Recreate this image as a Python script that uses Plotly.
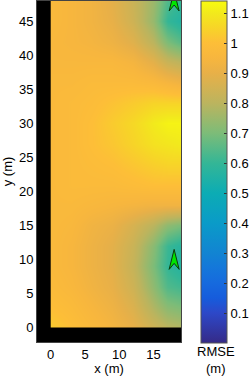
import plotly.graph_objects as go

# grid nodes (m)
x_nodes = [0, 3, 6, 9, 12, 15, 17, 19]
y_nodes = [0, 3, 6, 9, 12, 15, 18, 21, 24, 27, 30, 33, 36, 39, 42, 45, 48]

# RMSE (m), one row per y node
rmse = [
    [1.03, 1.00, 0.97, 0.94, 0.90, 0.84, 0.80, 0.78],
    [1.00, 0.98, 0.95, 0.92, 0.87, 0.78, 0.72, 0.70],
    [0.98, 0.96, 0.93, 0.90, 0.84, 0.73, 0.64, 0.62],
    [0.97, 0.95, 0.92, 0.89, 0.82, 0.70, 0.60, 0.56],
    [0.97, 0.95, 0.92, 0.89, 0.83, 0.72, 0.61, 0.57],
    [0.97, 0.96, 0.93, 0.91, 0.86, 0.80, 0.73, 0.70],
    [0.97, 0.97, 0.96, 0.95, 0.94, 0.93, 0.93, 0.93],
    [0.97, 0.98, 0.98, 0.98, 0.99, 1.00, 1.00, 1.00],
    [0.97, 0.98, 0.99, 1.00, 1.02, 1.04, 1.05, 1.05],
    [0.97, 0.98, 1.00, 1.02, 1.05, 1.08, 1.09, 1.10],
    [0.97, 0.98, 1.00, 1.03, 1.06, 1.10, 1.12, 1.12],
    [0.97, 0.98, 0.99, 1.01, 1.03, 1.05, 1.05, 1.05],
    [0.97, 0.97, 0.98, 0.98, 0.98, 0.97, 0.95, 0.93],
    [0.96, 0.96, 0.96, 0.96, 0.94, 0.89, 0.83, 0.80],
    [0.96, 0.95, 0.94, 0.92, 0.88, 0.80, 0.70, 0.65],
    [0.97, 0.95, 0.93, 0.90, 0.84, 0.74, 0.60, 0.56],
    [0.97, 0.95, 0.93, 0.89, 0.83, 0.75, 0.64, 0.60],
]

anchor_x = [18, 18]
anchor_y = [10, 48]

cb_ticks = [0.1, 0.2, 0.3, 0.4, 0.5, 0.6, 0.7, 0.8, 0.9, 1, 1.1]
x_ticks = [0, 5, 10, 15]
y_ticks = [0, 5, 10, 15, 20, 25, 30, 35, 40, 45]

CMIN, CMAX = 0.0, 1.14
cmap_vals = [0.0, 0.1, 0.15, 0.2, 0.25, 0.3, 0.4, 0.5, 0.6, 0.7, 0.8, 0.9, 0.95, 1.0, 1.05, 1.1, 1.14]
cmap_cols = ["rgb(53,42,135)", "rgb(45,72,200)", "rgb(22,92,220)", "rgb(22,106,222)",
             "rgb(20,119,218)", "rgb(18,132,210)", "rgb(10,155,200)", "rgb(12,172,180)",
             "rgb(52,182,150)", "rgb(125,188,120)", "rgb(188,180,94)", "rgb(232,176,72)",
             "rgb(247,182,62)", "rgb(253,190,56)", "rgb(247,212,40)", "rgb(242,234,28)",
             "rgb(249,251,14)"]
colorscale = [[(v - CMIN) / (CMAX - CMIN), c] for v, c in zip(cmap_vals, cmap_cols)]

W, H = 249, 376
L, R, T, B = 37, 68, 1, 34
PW, PH = W - L - R, H - T - B
FONT = "Liberation Sans, Arial, sans-serif"
XR = [-2, 19]
YR = [-2.15, 48]
CB_LEFT, CB_THICK, CB_LEN = 201, 26, 342

# arrow glyph for the anchors, in pixels relative to the anchor (tip up, notched base)
glyph_px = [(0, 10), (5, -10), (0, -4), (-5, -10), (0, 10)]
pxm_x = PW / (XR[1] - XR[0])
pxm_y = PH / (YR[1] - YR[0])

fig = go.Figure()
fig.add_trace(go.Heatmap(
    x=x_nodes, y=y_nodes, z=rmse, zsmooth="best",
    colorscale=colorscale, zmin=CMIN, zmax=CMAX,
    colorbar=dict(
        xref="paper", yref="paper",
        x=(CB_LEFT - L) / PW, xanchor="left", y=1.0, yanchor="top",
        thickness=CB_THICK, thicknessmode="pixels",
        len=CB_LEN / PH, lenmode="fraction",
        outlinewidth=1, outlinecolor="#555",
        tickvals=cb_ticks, ticktext=[f"{v:g}" for v in cb_ticks],
        ticks="inside", ticklen=3, tickcolor="#333",
        tickfont=dict(family=FONT, size=13, color="#000"),
        xpad=0, ypad=0,
    ),
    hoverinfo="skip",
))
for ax, ay in zip(anchor_x, anchor_y):
    fig.add_trace(go.Scatter(
        x=[ax + gx / pxm_x for gx, gy in glyph_px],
        y=[ay + gy / pxm_y for gx, gy in glyph_px],
        mode="lines", fill="toself", fillcolor="#00e600",
        line=dict(color="#0a3a0a", width=1),
        showlegend=False, hoverinfo="skip",
    ))

# black margins of the floor plan (x<0, y<0)
fig.add_shape(type="rect", xref="x", yref="y", x0=-5, x1=0, y0=-5, y1=60,
              fillcolor="black", line_width=0, layer="above")
fig.add_shape(type="rect", xref="x", yref="y", x0=-5, x1=25, y0=-5, y1=0,
              fillcolor="black", line_width=0, layer="above")

# mirrored tick marks on the left side of the colour bar
cb_bottom = 1.0 - CB_LEN / PH
for v in cb_ticks:
    yp = cb_bottom + (v - CMIN) / (CMAX - CMIN) * CB_LEN / PH
    fig.add_shape(type="line", xref="paper", yref="paper",
                  x0=(CB_LEFT + 0.5 - L) / PW, x1=(CB_LEFT + 3.5 - L) / PW, y0=yp, y1=yp,
                  line=dict(color="#333", width=1))

fig.update_layout(
    width=W, height=H, margin=dict(l=L, r=R, t=T, b=B, autoexpand=False),
    paper_bgcolor="white", plot_bgcolor="white",
    font=dict(family=FONT, size=13, color="#000"),
    showlegend=False,
    xaxis=dict(range=XR, tickvals=x_ticks, ticks="", showgrid=False, zeroline=False,
               showline=True, mirror=True, linecolor="#444", linewidth=1,
               title=dict(text="x (m)", standoff=2, font=dict(size=13))),
    yaxis=dict(range=YR, tickvals=y_ticks, ticks="", showgrid=False, zeroline=False,
               showline=True, mirror=True, linecolor="#444", linewidth=1,
               title=dict(text="y (m)", standoff=4, font=dict(size=13))),
    annotations=[dict(text="RMSE<br>(m)", xref="paper", yref="paper",
                      x=(216 - L) / PW, y=(H - B - 360) / PH,
                      showarrow=False, font=dict(family=FONT, size=13, color="#000"),
                      xanchor="center", yanchor="middle")],
)

fig.write_html("out.html", config={"displayModeBar": False},
               post_script="document.body.style.margin='0';document.body.style.overflow='hidden';")
